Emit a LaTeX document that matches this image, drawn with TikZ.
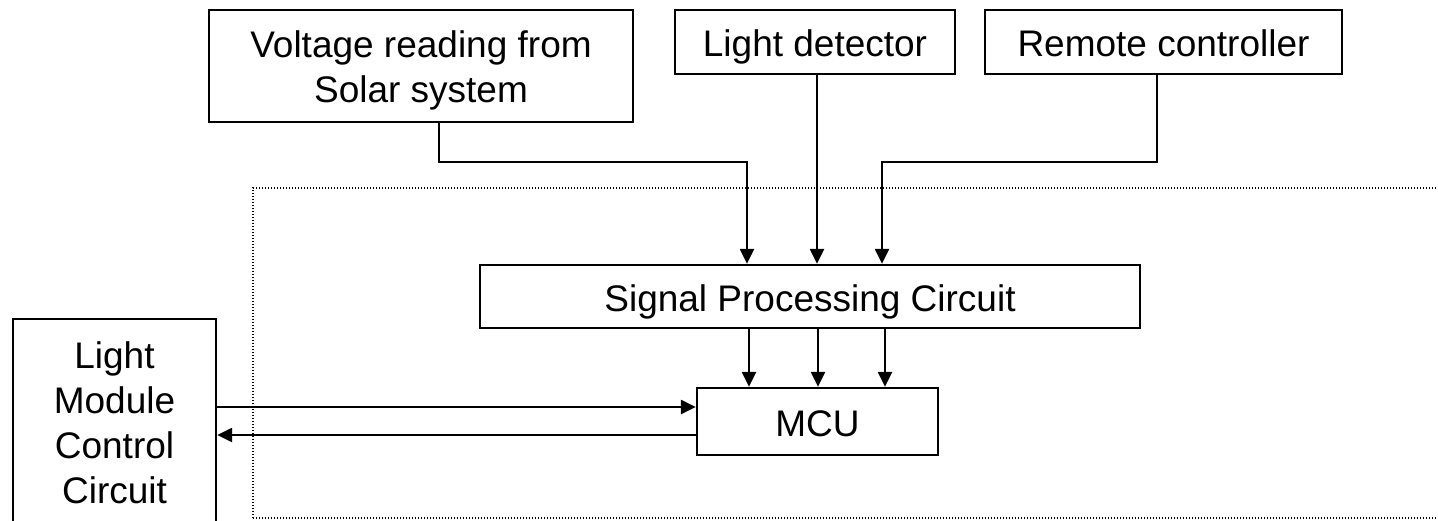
\documentclass[tikz,border=0pt]{standalone}
\usepackage{fontspec}
\setmainfont{Liberation Sans}
\usetikzlibrary{arrows.meta}
\begin{document}
\begin{tikzpicture}[x=1pt,y=-1pt,
  box/.style={draw, line width=2.3pt, inner sep=0pt, align=center,
    text height=29pt, text depth=0pt,
    font=\fontsize{37}{45}\selectfont},
  frame/.style={draw, line width=2.3pt, inner sep=0pt},
  label/.style={inner sep=0pt, align=center, font=\fontsize{37}{45}\selectfont},
  arr/.style={line width=2.3pt, -{Triangle[length=15pt,width=14pt]}},
  dotbox/.style={line width=1.6pt, dash pattern=on 1.2pt off 1.8pt}]
\useasboundingbox (0,0) rectangle (1438,520);
\clip (0,0) rectangle (1438,520);
\fill[white] (0,0) rectangle (1438,520);
% dotted frame
\draw[dotbox] (253,518) -- (253,188) -- (1450,188);
\draw[dotbox] (253,518) -- (1450,518);
% nodes
\node[frame, minimum width=424pt, minimum height=112pt] (volt) at (421,66) {};
\node[label] (volttext) at (421,70) {Voltage reading from\\Solar system};
\node[box, minimum width=280pt, minimum height=64pt] (ld) at (815,42) {Light detector};
\node[box, minimum width=357pt, minimum height=64pt] (rc) at (1163.5,42) {Remote controller};
\node[box, minimum width=660pt, minimum height=63pt] (spc) at (810,296.5) {Signal Processing Circuit};
\node[box, minimum width=241pt, minimum height=67pt] (mcu) at (817.5,421.5) {MCU};
\node[frame, minimum width=203pt, minimum height=221pt] (lm) at (114.5,429.5) {};
\node[label] (lmtext) at (114.5,423) {Light\\Module\\Control\\Circuit};
% coordinates
\coordinate (v1) at (747,162);
\coordinate (r1) at (882,162);
\coordinate (a1) at (749,0);
\coordinate (a2) at (818,0);
\coordinate (a3) at (885,0);
\coordinate (h1) at (0,407);
\coordinate (h2) at (0,435);
% connectors
\draw[arr] ([xshift=18pt]volt.south) |- (v1) -- (v1 |- spc.north);
\draw[arr] ([xshift=2pt]ld.south) -- ([xshift=2pt]ld.south |- spc.north);
\draw[arr] ([xshift=-6.5pt]rc.south) |- (r1) -- (r1 |- spc.north);
\draw[arr] (spc.south -| a1) -- (mcu.north -| a1);
\draw[arr] (spc.south -| a2) -- (mcu.north -| a2);
\draw[arr] (spc.south -| a3) -- (mcu.north -| a3);
\draw[arr] (lm.east |- h1) -- (mcu.west |- h1);
\draw[arr] (mcu.west |- h2) -- (lm.east |- h2);
\end{tikzpicture}
\end{document}
